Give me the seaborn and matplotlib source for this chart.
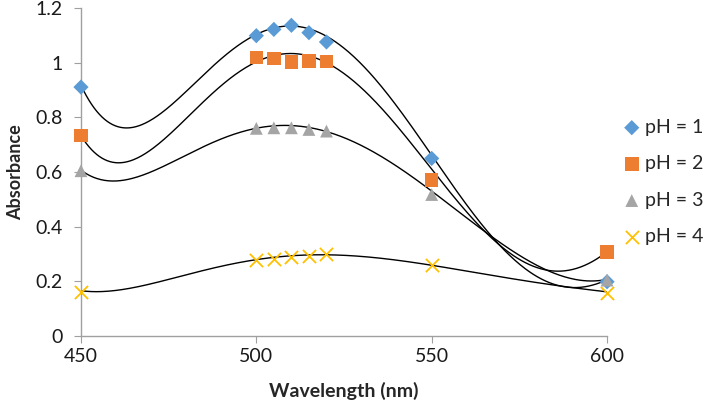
import numpy as np
import pandas as pd
import matplotlib
matplotlib.use("Agg")
import matplotlib.pyplot as plt
import seaborn as sns

# measured points
wavelength = [450, 500, 505, 510, 515, 520, 550, 600]
ph1 = [0.911, 1.099, 1.122, 1.137, 1.110, 1.076, 0.650, 0.199]
ph2 = [0.734, 1.019, 1.015, 1.002, 1.006, 1.004, 0.571, 0.308]
ph3 = [0.605, 0.760, 0.762, 0.762, 0.756, 0.750, 0.518, 0.205]
ph4 = [0.162, 0.278, 0.282, 0.288, 0.292, 0.300, 0.260, 0.158]
labels = ["pH = 1", "pH = 2", "pH = 3", "pH = 4"]
series = [ph1, ph2, ph3, ph4]

# trendline values (polynomial trendlines)
trend1_x = [450, 462, 469, 475, 481, 488, 493, 500, 510, 518, 532, 542, 550.5, 561, 587, 600]
trend1_y = [0.918, 0.762, 0.784, 0.833, 0.906, 0.998, 1.052, 1.101, 1.130, 1.108, 0.961, 0.815, 0.668, 0.445, 0.187, 0.205]
trend2_x = [450, 460.6, 481, 501, 507, 518, 532.4, 541.9, 550.5, 561, 575, 586.6, 600]
trend2_y = [0.735, 0.629, 0.815, 1.010, 1.030, 0.998, 0.888, 0.754, 0.595, 0.430, 0.285, 0.239, 0.308]
trend3_x = [450, 460, 481, 500, 510, 518, 532.4, 541.9, 550.5, 561, 587, 600]
trend3_y = [0.607, 0.568, 0.668, 0.760, 0.772, 0.754, 0.681, 0.607, 0.522, 0.425, 0.220, 0.208]
trend4_x = [450, 455, 478, 500, 518, 532, 550, 561, 587, 600]
trend4_y = [0.166, 0.163, 0.217, 0.281, 0.296, 0.290, 0.260, 0.235, 0.183, 0.162]
trends = [(trend1_x, trend1_y), (trend2_x, trend2_y), (trend3_x, trend3_y), (trend4_x, trend4_y)]

colors = ["#5B9BD5", "#ED7D31", "#A5A5A5", "#FFC000"]
markers = ["D", "s", "^", "x"]

sns.set_style("white")
plt.rcParams["font.family"] = ["Lato", "DejaVu Sans"]

rows = []
for lab, vals in zip(labels, series):
    for w, v in zip(wavelength, vals):
        rows.append({"Wavelength": w, "Absorbance": v, "Series": lab})
df = pd.DataFrame(rows)

# smooth polynomial (order 6) through the trendline readings
xs = np.linspace(450, 600, 400)
trend_rows = []
for lab, (tx, ty) in zip(labels, trends):
    coef = np.polyfit((np.array(tx, float) - 525.0) / 75.0, np.array(ty), 6)
    ys = np.polyval(coef, (xs - 525.0) / 75.0)
    for x, y in zip(xs, ys):
        trend_rows.append({"Wavelength": x, "Absorbance": y, "Series": lab})
tdf = pd.DataFrame(trend_rows)

fig = plt.figure(figsize=(7.09, 4.04), dpi=100)
ax = fig.add_axes([0.1142, 0.168, 0.742, 0.812])

sns.lineplot(data=tdf, x="Wavelength", y="Absorbance", units="Series", estimator=None,
             color="black", linewidth=1.0, ax=ax, legend=False)

for lab, vals, c, m in zip(labels, series, colors, markers):
    sub = df[df["Series"] == lab]
    if m == "x":
        ax.scatter(sub["Wavelength"], sub["Absorbance"], marker="x", s=90, color=c,
                   linewidths=1.3, label=lab, zorder=3, clip_on=False)
    else:
        s = {"D": 60, "s": 95, "^": 85}[m]
        ax.scatter(sub["Wavelength"], sub["Absorbance"], marker=m, s=s, color=c,
                   edgecolors="none", label=lab, zorder=3, clip_on=False)

ax.set_xlim(450, 600)
ax.set_ylim(0, 1.2)
ax.set_xticks([450, 500, 550, 600])
ax.set_yticks([0, 0.2, 0.4, 0.6, 0.8, 1.0, 1.2])
ax.set_yticklabels(["0", "0.2", "0.4", "0.6", "0.8", "1", "1.2"])
ax.tick_params(axis="both", labelsize=14, colors="#1a1a1a", length=5,
               direction="out", bottom=True, left=True, color="#A0A0A0")
ax.tick_params(axis="y", pad=8)
for side in ["top", "right"]:
    ax.spines[side].set_visible(False)
for side in ["left", "bottom"]:
    ax.spines[side].set_color("#A0A0A0")
    ax.spines[side].set_linewidth(1.0)
ax.grid(False)

ax.set_xlabel("Wavelength (nm)", fontsize=14, fontweight="bold", labelpad=12)
ax.set_ylabel("Absorbance", fontsize=13, fontweight="bold", labelpad=8)

ax.legend(loc="center left", bbox_to_anchor=(1.01, 0.47), frameon=False,
          fontsize=14, handletextpad=0.1, labelspacing=1.0, handlelength=1.2,
          borderaxespad=0)

fig.savefig("out.png", dpi=100)
